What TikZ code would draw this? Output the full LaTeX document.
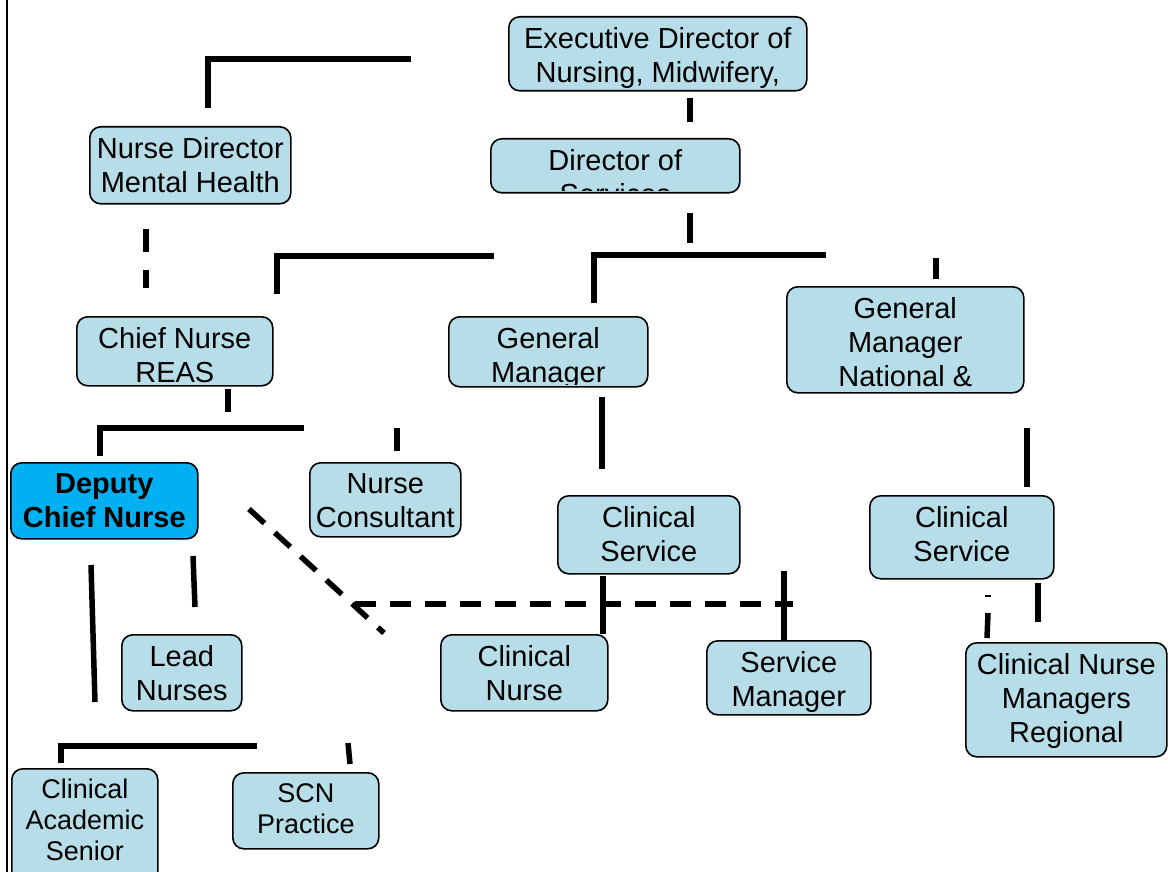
\documentclass[tikz,border=0pt]{standalone}
\usepackage{fontspec}
\setmainfont{Liberation Sans}
\usetikzlibrary{calc}
\definecolor{boxblue}{RGB}{183,222,232}
\definecolor{keyblue}{RGB}{0,176,240}
\newcommand{\boxfont}{\fontsize{29}{34}\selectfont}
\newcommand{\smallfont}{\fontsize{27}{31}\selectfont}
\tikzset{%
boxshape/.style={draw,line width=1.6pt,rounded corners=11pt,inner sep=0pt},
boxtext/.style={align=center,inner sep=0pt},
link/.style={line width=5.5pt},
dlink/.style={line width=5.5pt,dash pattern=on 21pt off 14pt},
pics/.cd,
orgbox/.style args={#1#2#3#4#5#6}{
    code={\node[boxshape,fill=#1,minimum width=#3pt,minimum height=#4pt,anchor=north west] (#6) at (0,0) {};
          \begin{scope}
             \clip[rounded corners=11pt] ([yshift=3pt]#6.south west) rectangle (#6.north east);
             \node[boxtext,font=#2,anchor=north] at ([yshift=-11pt]#6.north) {#5};
          \end{scope}
    }
},
}
\begin{document}
\begin{tikzpicture}[x=1pt,y=-1pt]
        \useasboundingbox (0,0) rectangle (1168,872);
        \draw[line width=2pt] (6.5,0) -- (6.5,872);
        % boxes
        \pic at (508,16)  {orgbox={boxblue}{\boxfont}{298}{74}{Executive Director of\\Nursing, Midwifery,}{exec}};
        \pic at (490,138) {orgbox={boxblue}{\boxfont}{249}{54}{Director of\\Services}{dos}};
        \pic at (89,126)  {orgbox={boxblue}{\boxfont}{201}{77}{Nurse Director\\Mental Health}{ndmh}};
        \pic at (76,316)  {orgbox={boxblue}{\boxfont}{196}{69}{Chief Nurse\\REAS}{cnreas}};
        \pic at (448,316) {orgbox={boxblue}{\boxfont}{199}{70}{General\\Manager}{gm}};
        \pic at (786,286) {orgbox={boxblue}{\boxfont}{237}{106}{General\\Manager\\National \&}{gmnat}};
        \pic at (10,462)  {orgbox={keyblue}{\boxfont\bfseries}{187}{76}{Deputy\\Chief Nurse}{dcn}};
        \pic at (309,462) {orgbox={boxblue}{\boxfont}{151}{74}{Nurse\\Consultant}{ncons}};
        \pic at (557,495) {orgbox={boxblue}{\boxfont}{182}{78}{Clinical\\Service}{cserv}};
        \pic at (869,495) {orgbox={boxblue}{\boxfont}{184}{83}{Clinical\\Service}{cservb}};
        \pic at (121,634) {orgbox={boxblue}{\boxfont}{120}{76}{Lead\\Nurses}{lead}};
        \pic at (440,634) {orgbox={boxblue}{\boxfont}{167}{76}{Clinical\\Nurse}{cnurse}};
        \pic at (706,640) {orgbox={boxblue}{\boxfont}{164}{74}{Service\\Manager}{sman}};
        \pic at (965,642) {orgbox={boxblue}{\boxfont}{201}{114}{Clinical Nurse\\Managers\\Regional}{cnmr}};
        \pic at (11,768)  {orgbox={boxblue}{\smallfont}{146}{120}{Clinical\\Academic\\Senior}{cas}};
        \pic at (232,772) {orgbox={boxblue}{\smallfont}{146}{76}{SCN\\Practice}{scn}};
        % top row
        \coordinate (t1) at (208,108); \coordinate (t2) at (411,59);
        \draw[link] (t1) |- (t2);
        \coordinate (e1) at (690,98);  \coordinate (e2) at (690,122);
        \draw[link] (e1) -- (e2);
        \coordinate (d1) at (690,213); \coordinate (d2) at (690,243);
        \draw[link] (d1) -- (d2);
        \coordinate (g1) at (594,303); \coordinate (g2) at (826,255);
        \draw[link] (g1) |- (g2);
        \coordinate (n1) at (936,258); \coordinate (n2) at (936,279);
        \draw[link] (n1) -- (n2);
        \coordinate (c1) at (277,294); \coordinate (c2) at (494,256);
        \draw[link] (c1) |- (c2);
        \coordinate (m1) at (146,229); \coordinate (m2) at (146,288);
        \draw[link,dash pattern=on 23pt off 18pt] (m1) -- (m2);
        % middle row
        \coordinate (r1) at (228,389); \coordinate (r2) at (228,412);
        \draw[link] (r1) -- (r2);
        \coordinate (b1) at (100,456); \coordinate (b2) at (304,428);
        \draw[link] (b1) |- (b2);
        \coordinate (k1) at (397,428); \coordinate (k2) at (397,451);
        \draw[link] (k1) -- (k2);
        \coordinate (v1) at (602,397); \coordinate (v2) at (602,469);
        \draw[link] (v1) -- (v2);
        \coordinate (w1) at (1027,428); \coordinate (w2) at (1027,487);
        \draw[link] (w1) -- (w2);
        % dashed links
        \coordinate (x1) at (249,509); \coordinate (x2) at (384,633);
        \draw[dlink] (x1) -- (x2);
        \coordinate (h1) at (355,604); \coordinate (h2) at (793,604);
        \draw[dlink] (h1) -- (h2);
        % lower row
        \coordinate (s1) at (603,576);
        \draw[link] (s1) -- (s1 |- cnurse.north);
        \coordinate (s2) at (784,571);
        \draw[link] (s2) -- (s2 |- sman.north);
        \coordinate (q1) at (1038,583); \coordinate (q2) at (1038,622);
        \draw[link] (q1) -- (q2);
        \coordinate (p1) at (985,596); \coordinate (p2) at (991,596);
        \draw[line width=1.5pt] (p1) -- (p2);
        \coordinate (p3) at (988,613); \coordinate (p4) at (987,638);
        \draw[link] (p3) -- (p4);
        \coordinate (l1) at (91,565);  \coordinate (l2) at (95,702);
        \draw[link] (l1) -- (l2);
        \coordinate (l3) at (193,556); \coordinate (l4) at (195,607);
        \draw[link] (l3) -- (l4);
        \coordinate (f1) at (61,763);  \coordinate (f2) at (257,746);
        \draw[link] (f1) |- (f2);
        \coordinate (f3) at (348,743); \coordinate (f4) at (350,764);
        \draw[link] (f3) -- (f4);
\end{tikzpicture}
\end{document}
